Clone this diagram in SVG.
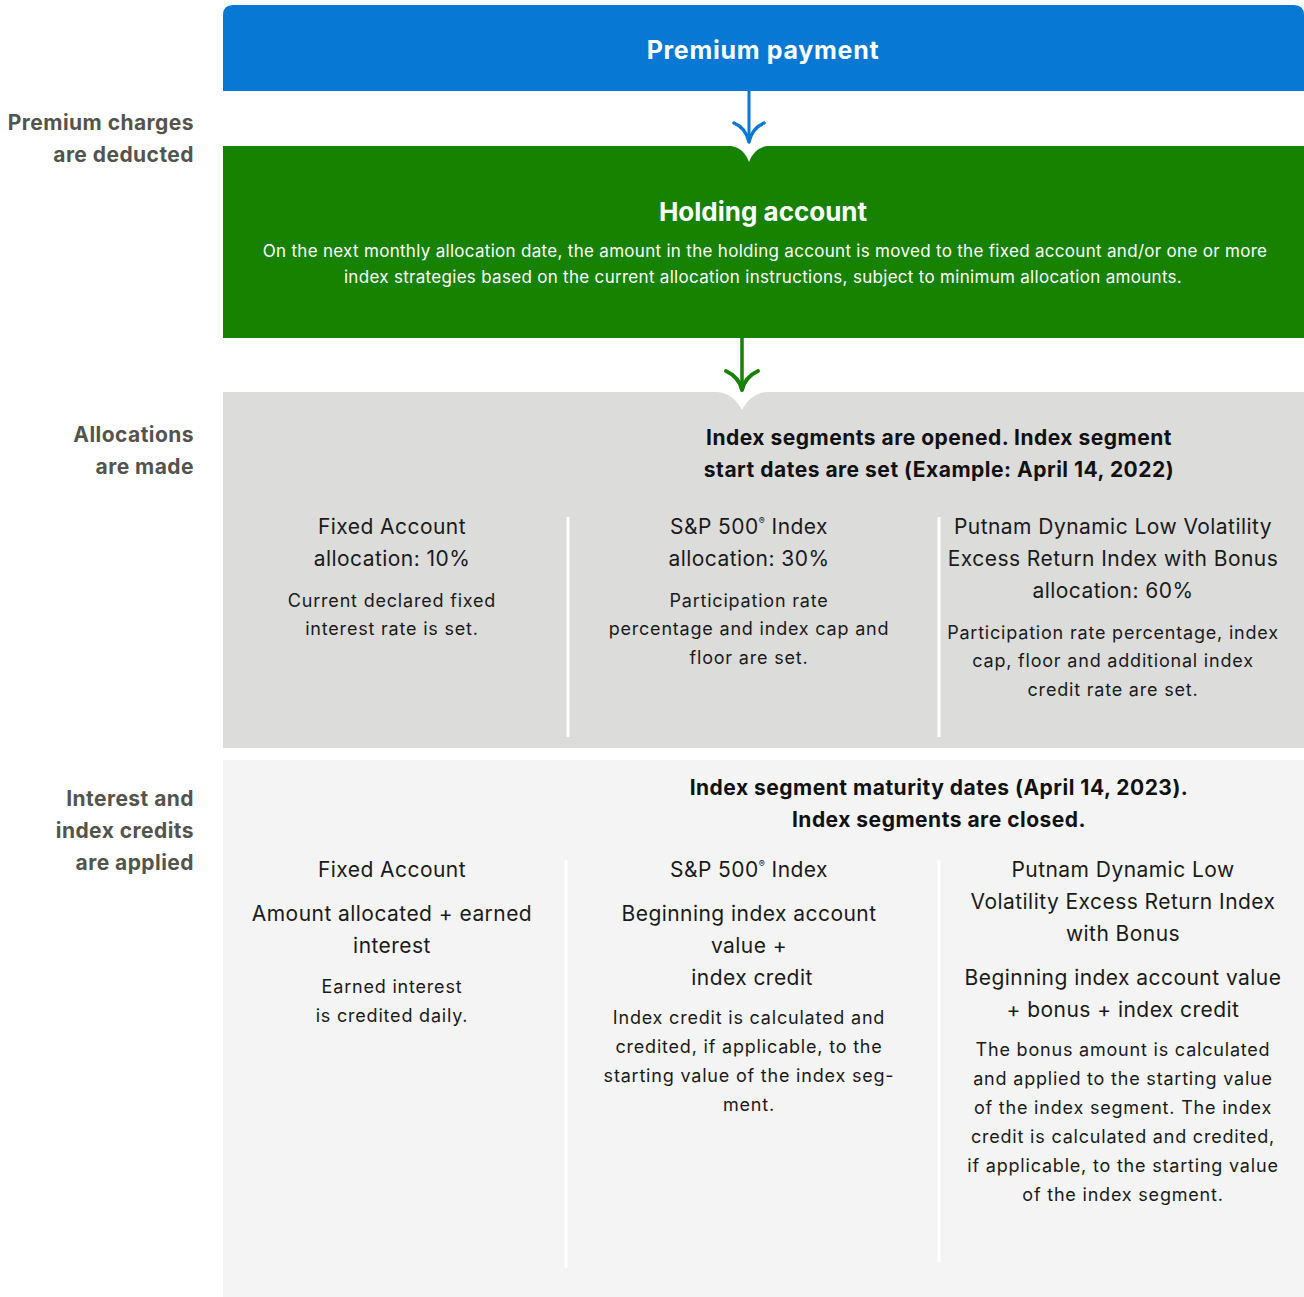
<svg xmlns="http://www.w3.org/2000/svg" width="1304" height="1297" viewBox="0 0 1304 1297">
<style>
text{font-family:Inter,"Liberation Sans",Arial,sans-serif;}
.lbl{font-size:21px;font-weight:700;fill:#54544f;text-anchor:end;letter-spacing:0.45px;}
.t{font-size:21px;fill:#1a1a1a;text-anchor:middle;letter-spacing:0.45px;}
.b{font-size:18px;fill:#1a1a1a;text-anchor:middle;letter-spacing:0.8px;}
.h{font-size:21px;font-weight:700;fill:#111;text-anchor:middle;letter-spacing:0.5px;}
.w{fill:#fff;text-anchor:middle;}
.div{stroke:#fff;stroke-width:3;}
</style>
<rect width="1304" height="1297" fill="#fff"/>
<g id="labels">
<text class="lbl" x="194" y="130">Premium charges</text>
<text class="lbl" x="194" y="162">are deducted</text>
<text class="lbl" x="194" y="442">Allocations</text>
<text class="lbl" x="194" y="474">are made</text>
<text class="lbl" x="194" y="806">Interest and</text>
<text class="lbl" x="194" y="838">index credits</text>
<text class="lbl" x="194" y="870">are applied</text>
</g>
<g id="premium">
<path d="M223,91 V15 Q223,5 233,5 H1294 Q1304,5 1304,15 V91 Z" fill="#0778d3"/>
<text class="w" x="763" y="59" font-size="25" font-weight="700" letter-spacing="0.7">Premium payment</text>
</g>
<g id="holding">
<path d="M223,146 H731 Q744,148 749,162 Q754,148 767,146 H1304 V338 H223 Z" fill="#168200"/>
<text class="w" x="763" y="221" font-size="26" font-weight="700">Holding account</text>
<text class="w" x="765" y="257" font-size="17" letter-spacing="0.3">On the next monthly allocation date, the amount in the holding account is moved to the fixed account and/or one or more</text>
<text class="w" x="763" y="283" font-size="17" letter-spacing="0.3">index strategies based on the current allocation instructions, subject to minimum allocation amounts.</text>
</g>
<g id="allocations">
<path d="M223,392 H717 Q733,393 742,410 Q751,393 767,392 H1304 V748 H223 Z" fill="#dcdcdb"/>
<text class="h" x="939" y="445">Index segments are opened. Index segment</text>
<text class="h" x="939" y="477">start dates are set (Example: April 14, 2022)</text>
<line class="div" x1="568" y1="517" x2="568" y2="737"/>
<line class="div" x1="939" y1="517" x2="939" y2="737"/>
<text class="t" x="392" y="534">Fixed Account</text>
<text class="t" x="392" y="566">allocation: 10%</text>
<text class="b" x="392" y="607">Current declared fixed</text>
<text class="b" x="392" y="635">interest rate is set.</text>
<text class="t" x="749" y="534">S&amp;P 500<tspan font-size="9" dy="-10">®</tspan><tspan dy="10"> Index</tspan></text>
<text class="t" x="749" y="566">allocation: 30%</text>
<text class="b" x="749" y="607">Participation rate</text>
<text class="b" x="749" y="635">percentage and index cap and</text>
<text class="b" x="749" y="664">floor are set.</text>
<text class="t" x="1113" y="534">Putnam Dynamic Low Volatility</text>
<text class="t" x="1113" y="566">Excess Return Index with Bonus</text>
<text class="t" x="1113" y="598">allocation: 60%</text>
<text class="b" x="1113" y="639">Participation rate percentage, index</text>
<text class="b" x="1113" y="667">cap, floor and additional index</text>
<text class="b" x="1113" y="696">credit rate are set.</text>
</g>
<g id="credits">
<rect x="223" y="760" width="1081" height="537" fill="#f4f4f4"/>
<text class="h" x="939" y="795">Index segment maturity dates (April 14, 2023).</text>
<text class="h" x="939" y="827">Index segments are closed.</text>
<line class="div" x1="566" y1="860" x2="566" y2="1268"/>
<line class="div" x1="939" y1="860" x2="939" y2="1262"/>
<text class="t" x="392" y="877">Fixed Account</text>
<text class="t" x="392" y="921">Amount allocated + earned</text>
<text class="t" x="392" y="953">interest</text>
<text class="b" x="392" y="993">Earned interest</text>
<text class="b" x="392" y="1022">is credited daily.</text>
<text class="t" x="749" y="877">S&amp;P 500<tspan font-size="9" dy="-10">®</tspan><tspan dy="10"> Index</tspan></text>
<text class="t" x="749" y="921">Beginning index account</text>
<text class="t" x="749" y="953">value +</text>
<text class="t" x="752" y="985">index credit</text>
<text class="b" x="749" y="1024">Index credit is calculated and</text>
<text class="b" x="749" y="1053">credited, if applicable, to the</text>
<text class="b" x="749" y="1082">starting value of the index seg-</text>
<text class="b" x="749" y="1111">ment.</text>
<text class="t" x="1123" y="877">Putnam Dynamic Low</text>
<text class="t" x="1123" y="909">Volatility Excess Return Index</text>
<text class="t" x="1123" y="941">with Bonus</text>
<text class="t" x="1123" y="985">Beginning index account value</text>
<text class="t" x="1123" y="1017">+ bonus + index credit</text>
<text class="b" x="1123" y="1056">The bonus amount is calculated</text>
<text class="b" x="1123" y="1085">and applied to the starting value</text>
<text class="b" x="1123" y="1114">of the index segment. The index</text>
<text class="b" x="1123" y="1143">credit is calculated and credited,</text>
<text class="b" x="1123" y="1172">if applicable, to the starting value</text>
<text class="b" x="1123" y="1201">of the index segment.</text>
</g>
<g id="connectors" fill="none" stroke-linecap="round" stroke-linejoin="round">
<line x1="749" y1="91" x2="749" y2="140" stroke="#0778d3" stroke-width="3"/>
<path d="M734,123 Q746,128 749,142 Q752,128 764,123" stroke="#0778d3" stroke-width="3.5"/>
<line x1="742" y1="338" x2="742" y2="388" stroke="#168200" stroke-width="3.5"/>
<path d="M726,371 Q739,377 742,390 Q745,377 758,371" stroke="#168200" stroke-width="4"/>
</g>
</svg>
